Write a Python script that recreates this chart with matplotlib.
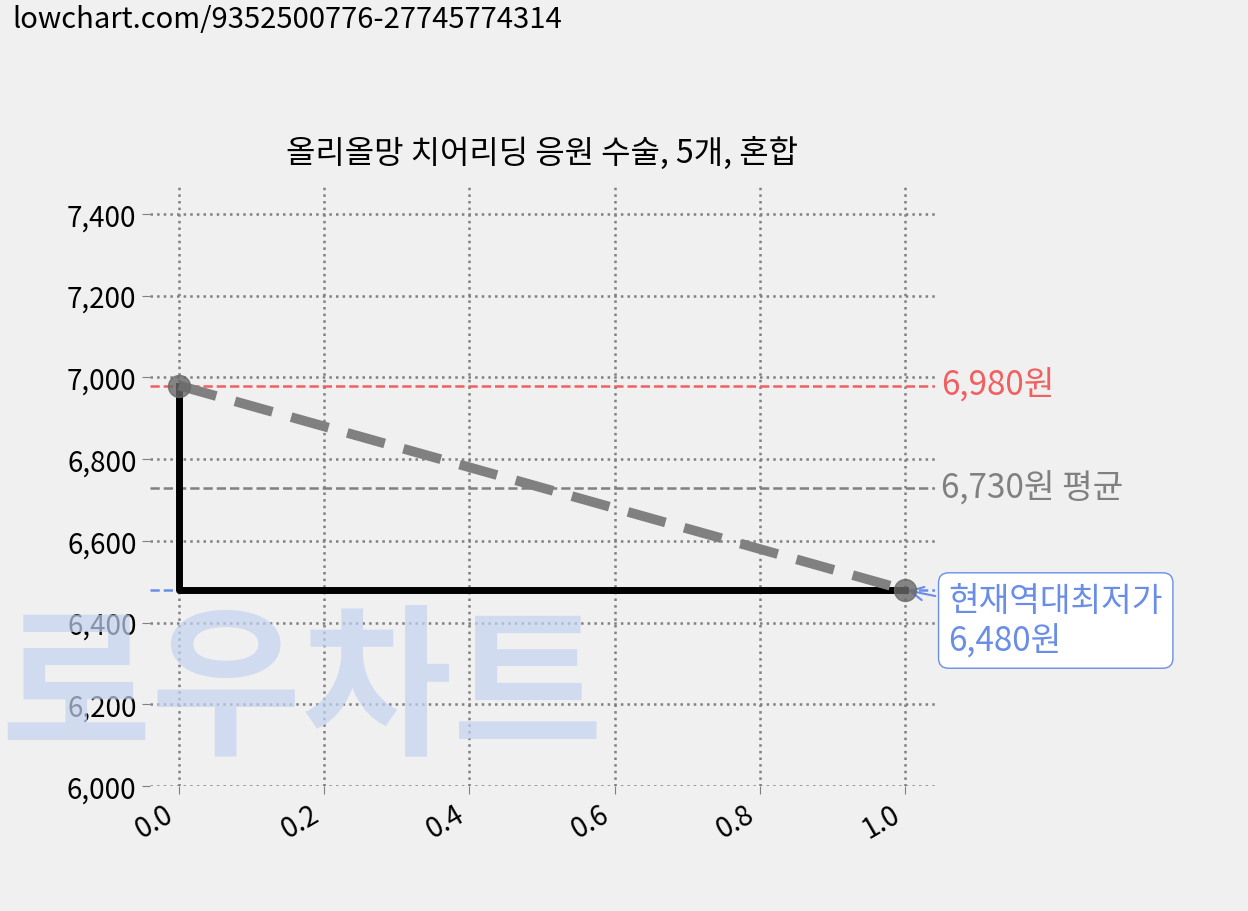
import matplotlib
matplotlib.use("Agg")
import matplotlib.pyplot as plt

plt.rcParams['font.family'] = ['Noto Sans CJK KR', 'DejaVu Sans']

x = [0.0, 1.0]
prices = [6980, 6480]
avg = 6730
title = "올리올망 치어리딩 응원 수술, 5개, 혼합"

fig = plt.figure(figsize=(12.48, 9.12), dpi=100, facecolor='#f0f0f0')
ax = fig.add_axes([0.120, 0.137, 0.629, 0.657], facecolor='#f0f0f0')
ax.set_xlim(-0.04, 1.041)
ax.set_ylim(6000, 7466)

fig.text(0.01, 0.995, "lowchart.com/9352500776-27745774314", fontsize=21, va='top', ha='left')
fig.text(0.0, 0.24, "로우차트", fontsize=118, fontweight='bold', color='#c5d3f0', alpha=0.7,
         va='center', ha='left', zorder=0)

ax.grid(True, linestyle=':', color='gray', linewidth=1.8)
for s in ax.spines.values():
    s.set_visible(False)
ax.tick_params(length=6, color='gray', labelsize=20)
ax.set_yticks([6000, 6200, 6400, 6600, 6800, 7000, 7200, 7400])
ax.set_yticklabels([f"{v:,}" for v in ax.get_yticks()])
ax.set_xticks([0.0, 0.2, 0.4, 0.6, 0.8, 1.0])
ax.set_xticklabels(["0.0", "0.2", "0.4", "0.6", "0.8", "1.0"], rotation=30, ha='right')
ax.set_title(title, fontsize=23, pad=18)

ax.axhline(prices[0], color='#f06060', linestyle='--', linewidth=1.8)
ax.axhline(avg, color='gray', linestyle='--', linewidth=1.8)
ax.axhline(prices[1], color='#6a8ee8', linestyle='--', linewidth=1.8)

ax.plot([x[0], x[0], x[1]], [prices[0], prices[1], prices[1]], color='black', linewidth=5, zorder=3)
ax.plot(x, prices, color='gray', linestyle='--', linewidth=7, dashes=(4, 2), zorder=4)
ax.scatter(x, prices, s=250, color='dimgray', alpha=0.8, zorder=5)

ax.text(1.05, prices[0], f"{prices[0]:,}원", color='#f06060', fontsize=24, va='center', clip_on=False)
ax.text(1.05, avg, f"{avg:,}원 평균", color='gray', fontsize=24, va='center', clip_on=False)
ax.annotate(f"현재역대최저가\n{prices[1]:,}원", xy=(1.0, prices[1]), xytext=(1.06, prices[1] - 75),
            color='#6a8ee8', fontsize=24, va='center', annotation_clip=False,
            bbox=dict(boxstyle='round,pad=0.3', fc='white', ec='#6a8ee8'),
            arrowprops=dict(arrowstyle='->', color='#6a8ee8', lw=1.5))

fig.savefig("out.png", dpi=100, facecolor=fig.get_facecolor())
